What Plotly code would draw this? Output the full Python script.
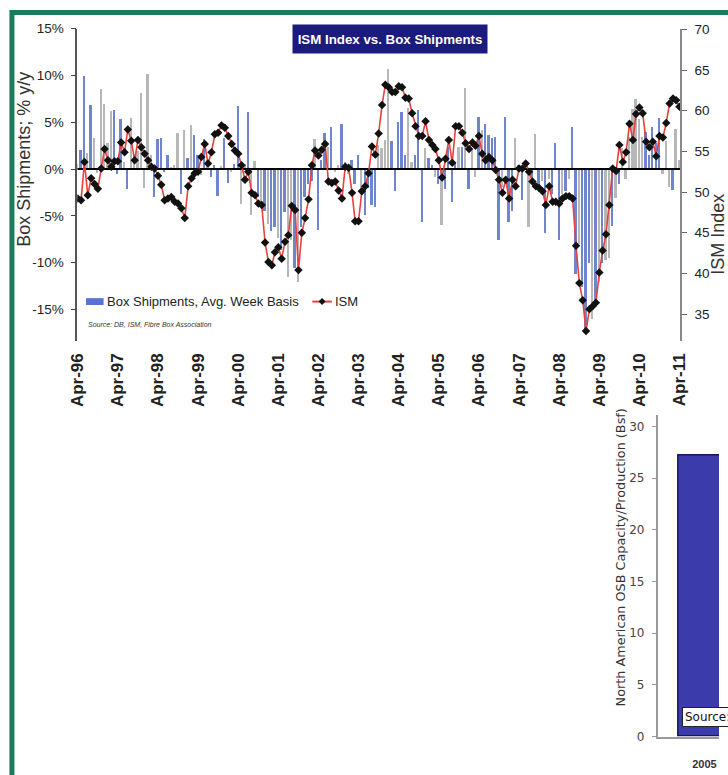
import pandas as pd
import plotly.graph_objects as go

# ---------------------------------------------------------------- data
months = pd.date_range("1996-04-01", "2011-04-01", freq="MS")
tick_labels = ["Apr-96", "Apr-97", "Apr-98", "Apr-99", "Apr-00", "Apr-01", "Apr-02", "Apr-03",
               "Apr-04", "Apr-05", "Apr-06", "Apr-07", "Apr-08", "Apr-09", "Apr-10", "Apr-11"]

# ISM manufacturing index, monthly
ism = [
    49.2, 49.0, 53.7, 49.6, 51.7, 51.0, 50.4, 52.9, 55.3, 53.9, 53.1, 53.8,
    53.8, 56.1, 54.9, 57.7, 56.3, 53.9, 56.4, 55.5, 54.7, 53.9, 53.1, 52.9,
    52.0, 50.9, 49.0, 49.2, 49.4, 48.8, 48.6, 48.0, 46.8, 50.7, 51.7, 52.3,
    52.5, 54.3, 55.9, 53.5, 54.9, 57.1, 57.3, 58.2, 57.9, 56.9, 55.9, 55.1,
    54.7, 53.3, 51.5, 52.5, 49.9, 49.6, 48.6, 48.4, 43.8, 41.4, 41.0, 42.6,
    43.2, 41.8, 43.9, 44.7, 48.3, 47.8, 40.4, 45.0, 46.8, 49.1, 53.3, 55.1,
    54.5, 55.2, 55.9, 51.3, 51.1, 51.3, 50.2, 49.2, 53.1, 53.0, 49.9, 46.4,
    46.4, 50.1, 50.7, 52.3, 55.6, 54.6, 57.2, 60.7, 63.2, 62.9, 62.3, 62.3,
    63.0, 62.9, 61.6, 61.5, 59.7, 58.1, 56.9, 56.9, 58.7, 56.4, 55.8, 55.3,
    53.9, 51.8, 54.1, 56.4, 53.6, 58.1, 58.1, 57.3, 56.0, 55.3, 56.1, 55.7,
    56.9, 54.7, 53.9, 54.3, 53.9, 52.7, 51.5, 49.9, 51.5, 49.2, 51.5, 50.7,
    52.9, 52.9, 53.5, 52.5, 51.3, 50.7, 50.5, 50.1, 48.4, 50.7, 48.8, 48.8,
    48.6, 49.2, 49.5, 49.5, 49.2, 43.4, 38.8, 36.7, 32.9, 35.6, 36.0, 36.4,
    40.1, 42.8, 44.8, 48.4, 52.9, 52.6, 55.8, 53.7, 54.9, 58.4, 56.4, 59.6,
    60.4, 59.7, 56.2, 55.5, 56.2, 54.4, 56.9, 56.7, 58.5, 60.9, 61.5, 61.3,
    60.5,
]

# Box shipments, % y/y (average week basis)
box_yoy = [
    0.6, 2.1, 10.0, 1.8, 6.9, 3.4, -0.4, 8.6, 7.0, 2.8, 6.2, 6.3,
    -0.5, 5.4, 0.8, -2.1, 5.5, 1.5, 2.0, 8.2, -2.0, 10.2, 1.5, -2.9,
    3.3, 3.4, -0.3, 1.6, 0.3, 0.5, 3.9, -2.6, 4.2, 1.2, 4.7, 3.7,
    1.6, -0.6, 3.3, 1.0, -0.8, 0.5, -2.8, 0.4, 3.4, -1.4, -0.3, 0.6,
    6.8, -3.7, 0.6, 6.1, -4.9, 0.9, -2.9, -3.7, -4.4, -5.8, -6.6, -6.1,
    -7.3, -8.6, -4.5, -11.5, -7.5, -10.5, -12.0, -6.1, -2.9, -1.6, -1.2, 3.3,
    -6.5, 1.0, 3.9, 2.4, 4.5, -0.3, 0.5, 4.9, 0.8, -0.5, 1.0, -1.5,
    1.5, -2.6, -4.9, -2.0, -3.8, -4.0, 2.6, 2.3, 3.2, 10.7, 3.0, -2.3,
    5.1, 6.1, 1.5, 6.6, 0.8, 1.6, 6.4, -5.6, 2.3, 1.2, 0.5, -0.8,
    -1.5, -5.9, -2.1, 2.4, -3.5, 0.8, 2.4, 2.4, 8.7, -2.1, 2.2, -0.8,
    5.6, 4.2, 4.9, 3.7, 3.4, 3.5, -7.5, -1.9, 5.6, -5.6, -4.4, 3.4,
    0.5, -3.3, 0.4, -6.1, -1.0, 3.8, -2.0, -1.2, -6.8, -1.0, -2.6, 2.8,
    -7.5, -2.6, -2.3, -1.0, 4.5, -11.2, -8.0, -12.5, -17.5, -10.0, -16.0, -14.0,
    -12.0, -10.0, -9.7, -9.5, -6.0, -3.0, -1.5, 2.3, -1.0, 3.5, 6.5, 7.5,
    5.4, 3.5, 4.0, 1.5, 4.5, 2.8, 5.5, -0.5, 3.0, -1.9, -2.2, 4.3,
    1.0,
]

# shading group of each monthly bar (b = blue, g = grey)
box_tone = (
    "gbbgbggggggb" "bbgbgggggggb" "bbbbgggbgbgb" "bgbgbbbgbbgb"
    "bggbggbgbgbb" "gbbggbgbbbbg" "bbbgbggbggbb" "bgbbbbggggbb"
    "bbbggbbbgbbg" "bgbbbbgbgbgg" "bgbbbbbgbbbg" "gbggbgbgbgbb"
    "bgbgbbgbbbgb" "gbggbgbgggggg" "gbbbbbgggbg"
)
box_tone = box_tone[:len(box_yoy)].ljust(len(box_yoy), "g")

# North American OSB capacity / production (Bsf)
osb_years = ["2005"]
osb_capacity = [27.2]

assert len(ism) == len(months) == len(box_yoy)

# ---------------------------------------------------------------- helpers
W, H = 728, 775


def px(x):
    return x / W


def py(y):
    return 1 - y / H


ARIAL = "Liberation Sans, Arial, sans-serif"
DEJAVU = "DejaVu Sans, Verdana, sans-serif"

BLUE_BAR = "#7086cc"
GREY_BAR = "#b7b7b7"
tone_colors = {"b": BLUE_BAR, "g": GREY_BAR}
bar_colors = [tone_colors[t] for t in box_tone]

bar_width_ms = 16.5 * 24 * 3600 * 1000
pad = pd.Timedelta(days=4.4)
x_lo, x_hi = months[0] - pad, months[-1] + pad

fig = go.Figure()

fig.add_trace(go.Bar(
    x=months, y=box_yoy, width=[bar_width_ms] * len(months),
    marker=dict(color=bar_colors, line=dict(width=0)),
    name="Box Shipments, Avg. Week Basis", xaxis="x", yaxis="y",
))

# 0% reference line, kept above the bars and below the ISM series
fig.add_trace(go.Scatter(
    x=[x_lo, x_hi], y=[0, 0], mode="lines",
    line=dict(color="#000000", width=2), hoverinfo="skip",
    xaxis="x", yaxis="y", name="zero",
))

fig.add_trace(go.Scatter(
    x=months, y=ism, mode="lines+markers", name="ISM",
    line=dict(color="#e8413c", width=1.6),
    marker=dict(symbol="diamond", size=6.5, color="#111111"),
    xaxis="x", yaxis="y2",
))

fig.add_trace(go.Bar(
    x=osb_years, y=osb_capacity, width=0.7,
    marker=dict(color="#3b3bab", line=dict(color="#16165e", width=1.5)),
    xaxis="x3", yaxis="y3", name="OSB",
))

fig.update_layout(
    width=W, height=H,
    margin=dict(l=0, r=0, t=0, b=0),
    paper_bgcolor="white", plot_bgcolor="rgba(0,0,0,0)",
    showlegend=False, bargap=0,
    xaxis=dict(
        type="date", domain=[px(70), px(688)], anchor="y",
        range=[x_lo, x_hi],
        tickvals=list(months[::12]), ticktext=tick_labels,
        tickangle=-90, ticks="", showline=False, showgrid=False, zeroline=False,
        tickfont=dict(family=ARIAL, size=17, color="#222222", weight="bold"),
        ticklabelstandoff=8,
    ),
    yaxis=dict(
        domain=[py(340), py(22)], anchor="x", range=[-18.34, 15],
        tickvals=[-15, -10, -5, 0, 5, 10, 15],
        ticktext=["-15%", "-10%", "-5%", "0%", "5%", "10%", "15%"],
        ticks="outside", ticklen=5, tickwidth=1.3, tickcolor="#444444",
        showline=True, linecolor="#555555", linewidth=1.5,
        showgrid=False, zeroline=False,
        tickfont=dict(family=ARIAL, size=13.5, color="#222222"),
        ticklabelstandoff=4,
    ),
    yaxis2=dict(
        overlaying="y", side="right", anchor="x", range=[31.7, 70.1],
        tickvals=[35, 40, 45, 50, 55, 60, 65, 70],
        ticks="outside", ticklen=5, tickwidth=1.3, tickcolor="#666666",
        showline=True, linecolor="#888888", linewidth=1.5,
        showgrid=False, zeroline=False,
        tickfont=dict(family=ARIAL, size=13.5, color="#222222"),
        ticklabelstandoff=5,
    ),
    xaxis3=dict(
        type="category", domain=[px(665), 1], anchor="y3",
        range=[-0.634, 0.198], ticks="", showgrid=False, zeroline=False,
        showline=True, linecolor="#999999", linewidth=1.5,
        tickfont=dict(family=ARIAL, size=11, color="#333333", weight="bold"),
        ticklabelstandoff=16,
    ),
    yaxis3=dict(
        domain=[py(743), py(415)], anchor="x3", range=[0, 31.15],
        tickvals=[0, 5, 10, 15, 20, 25, 30],
        ticks="outside", ticklen=4, tickcolor="#999999",
        showline=True, linecolor="#999999", linewidth=1.5,
        showgrid=False, zeroline=False,
        tickfont=dict(family=DEJAVU, size=12, color="#444444"),
        ticklabelstandoff=5,
    ),
)

# ---------------------------------------------------------------- annotations
ann = []
ann.append(dict(
    text="<b>ISM Index vs. Box Shipments</b>", x=px(391), y=py(33),
    xref="paper", yref="paper", showarrow=False, xanchor="center", yanchor="middle",
    bgcolor="#1b1b7d", width=190, height=24, borderpad=2,
    font=dict(family=ARIAL, size=13.3, color="white"),
))
ann.append(dict(
    text="Box Shipments; % y/y", x=px(16), y=py(155), textangle=-90,
    xref="paper", yref="paper", showarrow=False, xanchor="center", yanchor="middle",
    font=dict(family=ARIAL, size=18, color="#333333"),
))
ann.append(dict(
    text="ISM Index", x=px(727), y=py(232), textangle=-90,
    xref="paper", yref="paper", showarrow=False, xanchor="center", yanchor="middle",
    font=dict(family=ARIAL, size=18, color="#333333"),
))
ann.append(dict(
    text="Box Shipments, Avg. Week Basis", x=px(98), y=py(300),
    xref="paper", yref="paper", showarrow=False, xanchor="left", yanchor="middle",
    font=dict(family=ARIAL, size=13, color="#222222"),
))
ann.append(dict(
    text="ISM", x=px(332), y=py(300),
    xref="paper", yref="paper", showarrow=False, xanchor="left", yanchor="middle",
    font=dict(family=ARIAL, size=13, color="#222222"),
))
ann.append(dict(
    text="<i>Source: DB, ISM, Fibre Box Association</i>", x=px(79), y=py(323),
    xref="paper", yref="paper", showarrow=False, xanchor="left", yanchor="middle",
    font=dict(family=ARIAL, size=7, color="#333333"),
))
ann.append(dict(
    text="North American OSB Capacity/Production (Bsf)", x=px(627), y=py(560),
    textangle=-90, xref="paper", yref="paper", showarrow=False,
    xanchor="center", yanchor="middle",
    font=dict(family=DEJAVU, size=12.8, color="#333333"),
))
ann.append(dict(
    text="Source:", x=px(690), y=py(723),
    xref="paper", yref="paper", showarrow=False, xanchor="left", yanchor="middle",
    bgcolor="white", bordercolor="#222222", borderwidth=1, borderpad=2,
    font=dict(family=DEJAVU, size=12, color="#111111"),
))
fig.update_layout(annotations=ann)

# ---------------------------------------------------------------- shapes
shapes = []
# frame
shapes.append(dict(
    type="rect", xref="paper", yref="paper",
    x0=px(3), x1=px(745), y0=py(800), y1=py(5.5),
    line=dict(color="#1e7a5c", width=5), fillcolor="rgba(0,0,0,0)",
))
# legend keys
shapes.append(dict(
    type="rect", xref="paper", yref="paper",
    x0=px(79), x1=px(97), y0=py(303.5), y1=py(296.5),
    line=dict(width=0), fillcolor="#5872d8",
))
shapes.append(dict(
    type="line", xref="paper", yref="paper",
    x0=px(311), x1=px(331), y0=py(300), y1=py(300),
    line=dict(color="#e8413c", width=2),
))
cx, cy, r = 321, 300, 3.6
shapes.append(dict(
    type="path", xref="paper", yref="paper",
    path=(f"M {px(cx)} {py(cy - r)} L {px(cx + r)} {py(cy)} "
          f"L {px(cx)} {py(cy + r)} L {px(cx - r)} {py(cy)} Z"),
    line=dict(width=0), fillcolor="#111111",
))
fig.update_layout(shapes=shapes)

fig.write_html("out.html")
